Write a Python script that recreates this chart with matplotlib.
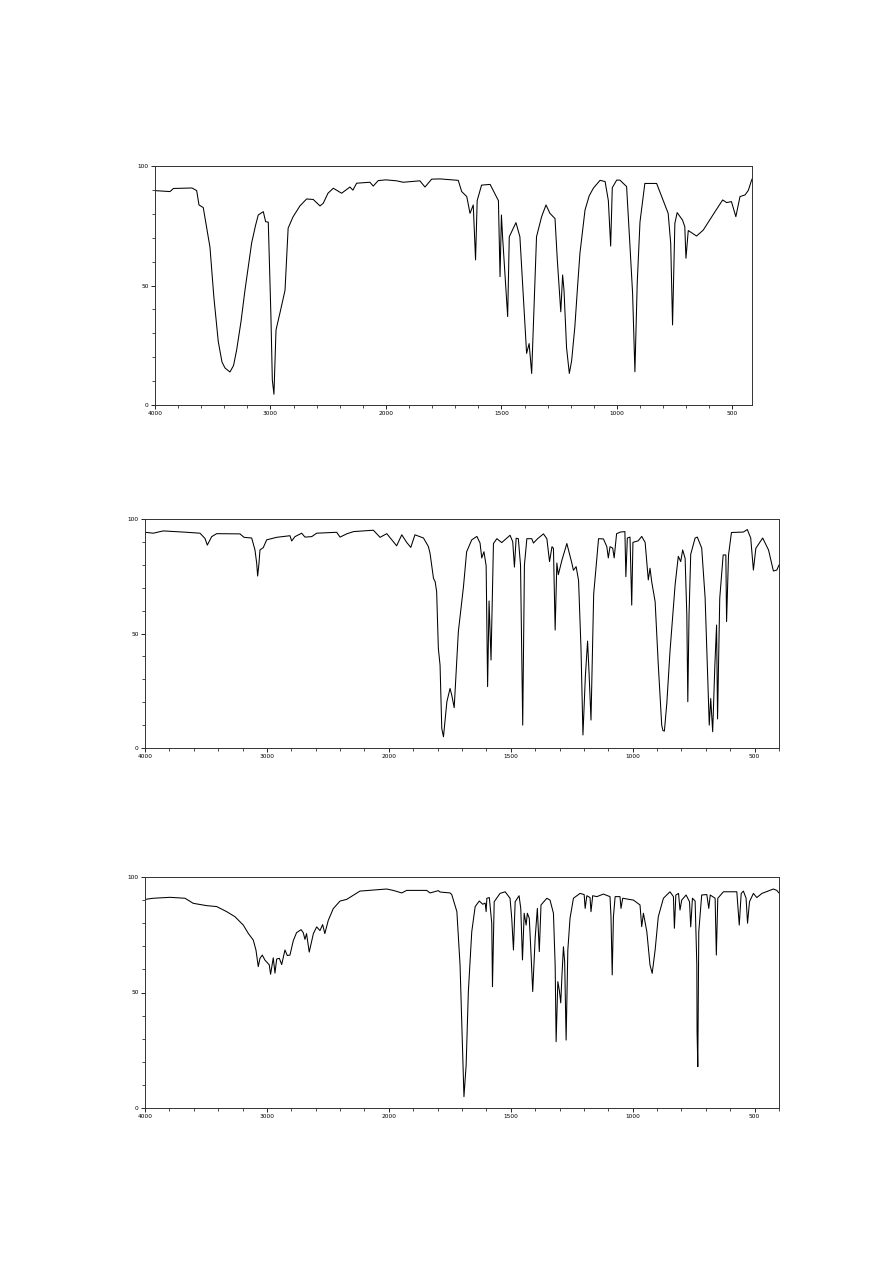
import numpy as np
import matplotlib
matplotlib.use("Agg")
import matplotlib.pyplot as plt

# ---------------- data (wavenumber cm-1, %T) ----------------
wn1 = [4000, 3870, 3840, 3680, 3639, 3619, 3582, 3524, 3490, 3452, 3420, 3394, 3351, 3320,
       3293, 3255, 3221, 3163, 3130,
       3106, 3062, 3042, 3019, 2996, 2984, 2970, 2952, 2918, 2874, 2847, 2805, 2745, 2687,
       2630, 2571, 2543, 2502, 2456, 2384, 2312, 2286, 2254, 2139, 2110, 2067, 2000, 1954,
       1925, 1853, 1831, 1802, 1766, 1687, 1672, 1650, 1636, 1622, 1612, 1605, 1586, 1549,
       1513, 1506, 1500, 1495, 1473, 1466, 1437, 1420, 1391, 1380, 1369, 1348, 1326, 1307,
       1290, 1268, 1258, 1243, 1235, 1229, 1218, 1206, 1196, 1182, 1170, 1160, 1138, 1120,
       1102, 1073, 1051, 1037,
       1027, 1020, 1001, 987, 958, 944, 932, 922, 912, 900, 879, 828, 806, 778, 767, 759,
       749, 739, 716, 706, 701, 691, 655, 626, 575, 542, 525, 504, 485, 467, 445, 431, 417, 415]
t1 = [89.7, 89.3, 90.6, 90.8, 89.7, 83.7, 82.6, 66.0, 45.0, 26.5, 18.0, 15.5, 13.8, 16.5,
      23.0, 35.0, 48.0, 67.8, 75.0,
      79.5, 80.9, 76.7, 76.5, 37.0, 10.5, 4.5, 31.4, 38.5, 48.0, 74.0, 78.7, 83.3, 86.2,
      86.0, 83.3, 84.4, 88.6, 90.7, 88.6, 91.2, 89.9, 92.8, 93.2, 91.6, 93.9, 94.2, 93.8,
      93.2, 93.8, 91.2, 94.5, 94.6, 94.0, 89.3, 87.2, 80.2, 83.7, 60.7, 85.5, 92.0, 92.3,
      85.5, 53.7, 79.5, 70.4, 37.0, 70.4, 76.3, 70.4, 21.6, 25.7, 13.2, 70.4, 78.8, 83.7,
      80.2, 78.0, 60.7, 39.0, 54.4, 48.0, 24.0, 13.2, 18.5, 32.8, 50.0, 63.5, 81.6, 87.5,
      90.7, 94.0, 93.5, 85.5,
      66.5, 90.9, 94.1, 94.1, 91.4, 67.6, 46.7, 13.9, 51.0, 76.6, 92.7, 92.7, 87.2, 80.2, 67.6, 33.5,
      76.0, 80.5, 77.4, 74.6, 61.4, 73.0, 70.7, 73.2, 80.9, 85.8, 84.7, 85.1, 78.8, 87.2, 87.9, 89.8, 94.0, 94.5]

wn2 = [4000, 3932, 3850, 3658, 3549, 3508, 3489, 3453, 3412, 3221, 3188, 3125, 3098, 3084,
       3076, 3065, 3057, 3030, 3002, 2920, 2811, 2797, 2770, 2715, 2688, 2633, 2592, 2428,
       2400, 2346, 2290, 2127, 2072, 2017, 1968, 1947, 1927, 1910, 1893, 1858, 1838, 1831,
       1817, 1810, 1804, 1797, 1790, 1783, 1776, 1762, 1749, 1742, 1732, 1715, 1694, 1681,
       1660, 1639, 1626, 1619, 1610, 1601, 1595, 1589, 1581, 1571, 1557, 1537, 1503, 1492,
       1485, 1478, 1469, 1460, 1451, 1444, 1434, 1414, 1407, 1390, 1366, 1352, 1341, 1331,
       1325, 1318, 1311, 1305, 1290, 1270, 1249, 1243, 1232, 1222, 1212, 1204, 1194, 1185,
       1179, 1171, 1160, 1140, 1120, 1106, 1100, 1093, 1082, 1076, 1066, 1050, 1032, 1028,
       1022, 1011, 1004, 999, 977, 963, 949, 936, 929, 922, 908, 895, 881, 876, 870, 860, 847,
       826, 813, 803, 795, 785, 778, 774, 769, 762, 744, 735, 717, 703, 694, 686, 680, 672,
       663, 656, 652, 643, 629, 618, 615, 607, 595, 546, 530, 516, 505, 495, 467, 443, 423,
       409, 400]
t2 = [94.2, 93.8, 94.8, 94.2, 93.8, 91.5, 88.6, 92.3, 93.6, 93.5, 92.0, 91.7, 86.5, 80.7,
      75.1, 80.7, 86.5, 87.5, 90.9, 92.0, 92.7, 90.4, 92.3, 93.8, 92.1, 92.3, 93.8, 94.2,
      92.1, 93.5, 94.5, 95.1, 92.0, 93.6, 88.3, 93.1, 89.8, 87.6, 93.1, 91.7, 88.0, 85.0,
      74.1, 72.6, 68.3, 43.5, 36.2, 8.6, 4.9, 20.2, 26.0, 23.1, 17.6, 50.8, 70.4, 85.7,
      90.9, 92.4, 89.5, 83.0, 85.7, 79.6, 26.8, 64.2, 38.4, 89.3, 91.4, 89.7, 92.9, 90.1,
      79.0, 91.6, 91.4, 79.9, 10.0, 79.9, 91.4, 91.4, 89.5, 91.4, 93.5, 91.4, 81.4, 87.9,
      87.2, 51.5, 80.8, 75.7, 82.1, 89.3, 80.5, 77.6, 79.2, 73.2, 43.5, 5.7, 31.5, 46.7,
      32.9, 12.2, 67.2, 91.4, 91.3, 87.9, 83.0, 87.9, 87.3, 83.0, 93.6, 94.3, 94.5, 74.8,
      91.7, 92.1, 62.4, 89.8, 90.5, 92.4, 89.8, 73.4, 78.5, 72.6, 63.9, 36.2, 10.0, 7.6, 7.4, 19.6, 42.2,
      71.3, 83.7, 81.4, 86.5, 82.8, 58.0, 20.2, 58.0, 84.6, 91.7, 92.1, 87.3, 65.6, 36.2, 10.0, 21.6, 7.1,
      36.2, 53.7, 12.7, 65.4, 84.3, 84.3, 55.2, 84.3, 94.1, 94.3, 95.4, 91.7, 77.7, 87.2, 91.7, 86.5, 77.3,
      77.7, 79.9]

wn3 = [4000, 3932, 3795, 3672, 3604, 3494, 3412, 3330, 3262, 3194, 3153, 3112, 3090, 3071,
       3057, 3038, 3016, 2981, 2970, 2948, 2934, 2920, 2898, 2879, 2852, 2833, 2811, 2784,
       2757, 2720, 2702, 2688, 2675, 2653, 2619, 2592, 2565, 2543, 2525, 2497, 2456, 2400,
       2346, 2291, 2237, 2018, 1982, 1947, 1927, 1845, 1831, 1797, 1790, 1749, 1742, 1721,
       1708, 1701, 1692, 1683, 1674, 1660, 1646, 1629, 1615, 1605, 1601, 1598, 1588, 1578,
       1575, 1568, 1544, 1523, 1503, 1496, 1489, 1482, 1466, 1459, 1452, 1445, 1437, 1432,
       1424, 1418, 1410, 1400, 1391, 1383, 1376, 1352, 1339, 1325, 1318, 1314, 1307, 1301,
       1295, 1290, 1284, 1279, 1273, 1266, 1257, 1243, 1216, 1199, 1195, 1188, 1175, 1171,
       1164, 1147, 1120, 1093, 1089, 1084, 1079, 1072, 1052, 1048, 1041, 997, 970, 963, 956,
       942, 929, 920, 908, 895, 874, 847, 833, 829, 823, 812, 806, 799, 781, 767, 762, 755,
       744, 737, 736, 733, 729, 717, 696, 688, 682, 662, 657, 651, 628, 573, 563, 555, 546,
       535, 529, 521, 505, 491, 470, 423, 409, 400]
t3 = [90.3, 90.8, 91.2, 90.8, 88.6, 87.6, 87.2, 85.0, 82.8, 79.2, 75.6, 72.7, 68.4, 61.2,
      64.8, 66.2, 64.0, 62.0, 57.9, 65.0, 58.4, 64.5, 64.8, 62.1, 68.4, 66.0, 66.2, 72.4,
      75.9, 77.2, 75.9, 73.0, 75.5, 67.5, 75.5, 78.4, 76.8, 79.4, 75.5, 81.2, 86.3, 89.6,
      90.3, 92.1, 93.9, 94.8, 94.2, 93.1, 94.2, 94.2, 93.1, 94.1, 93.5, 93.1, 92.4, 85.0,
      61.9, 37.4, 4.9, 18.6, 50.3, 76.3, 87.2, 89.6, 88.2, 88.7, 85.0, 90.8, 91.1, 80.0,
      52.5, 89.3, 92.9, 93.6, 90.8, 82.1, 68.4, 89.3, 91.9, 86.4, 64.1, 84.3, 79.2, 84.3,
      82.1, 69.1, 50.4, 73.5, 86.4, 67.7, 87.9, 90.8, 90.0, 84.3, 61.9, 28.7, 54.7, 51.1,
      45.5, 57.6, 69.8, 63.3, 29.4, 68.4, 82.1, 90.8, 92.9, 92.4, 86.4, 91.9, 91.1, 85.0,
      91.9, 91.5, 92.6, 91.5, 82.8, 57.6, 82.8, 91.5, 91.5, 86.4, 90.8, 90.0, 87.9, 78.5, 84.3,
      76.3, 61.9, 58.3, 68.4, 82.8, 90.8, 93.6, 91.5, 77.8, 92.2, 92.9, 85.7, 90.0, 92.2, 89.3, 78.4, 90.8,
      89.6, 61.9, 33.0, 17.9, 76.3, 92.2, 92.4, 86.4, 92.2, 90.8, 66.2, 90.8, 93.6, 93.6, 79.2, 92.9, 93.9,
      90.8, 80.0, 89.3, 92.9, 91.1, 92.9, 94.8, 94.2, 93.1]

tick_wn = [4000, 3000, 2000, 1500, 1000, 500]
tick_labels = ["4000", "3000", "2000", "1500", "1000", "500"]
y_ticks = [0, 50, 100]
y_labels = ["0", "50", "100"]


def u(w):
    """Chart x-axis: 4000-2000 at half the scale of 2000-400."""
    w = np.asarray(w, dtype=float)
    return np.where(w >= 2000, (4000 - w) / 1000.0, 2 + (2000 - w) / 500.0)


W, H = 893, 1263
fig = plt.figure(figsize=(W / 100, H / 100), dpi=100)
fig.patch.set_facecolor("white")

panels = [
    # (left, top, right, bottom) in pixels, data, x end
    ((155, 166, 752, 405), wn1, t1, 415),
    ((145, 519, 779, 748), wn2, t2, 400),
    ((145, 877, 779, 1108), wn3, t3, 400),
]

for (l, t, r, b), wn, tr, xend in panels:
    ax = fig.add_axes([l / W, 1 - b / H, (r - l) / W, (b - t) / H])
    ax.plot(u(wn), tr, color="black", lw=0.75, solid_joinstyle="round")
    ax.set_xlim(0, float(u(xend)))
    ax.set_ylim(0, 100)
    ax.set_xticks(u(tick_wn))
    ax.set_xticklabels(tick_labels, fontsize=4.2, family="DejaVu Sans")
    ax.set_xticks(np.arange(0, float(u(xend)) + 1e-6, 0.2), minor=True)
    ax.set_yticks(y_ticks)
    ax.set_yticklabels(y_labels, fontsize=4.2, family="DejaVu Sans")
    ax.set_yticks(np.arange(0, 101, 10), minor=True)
    ax.tick_params(axis="both", which="major", direction="out", length=3, width=0.6,
                   pad=1.5, colors="black")
    ax.tick_params(axis="both", which="minor", direction="out", length=2, width=0.5)
    for s in ax.spines.values():
        s.set_color("#333333")
        s.set_linewidth(0.7)

fig.savefig("out.png", dpi=100, facecolor="white")
